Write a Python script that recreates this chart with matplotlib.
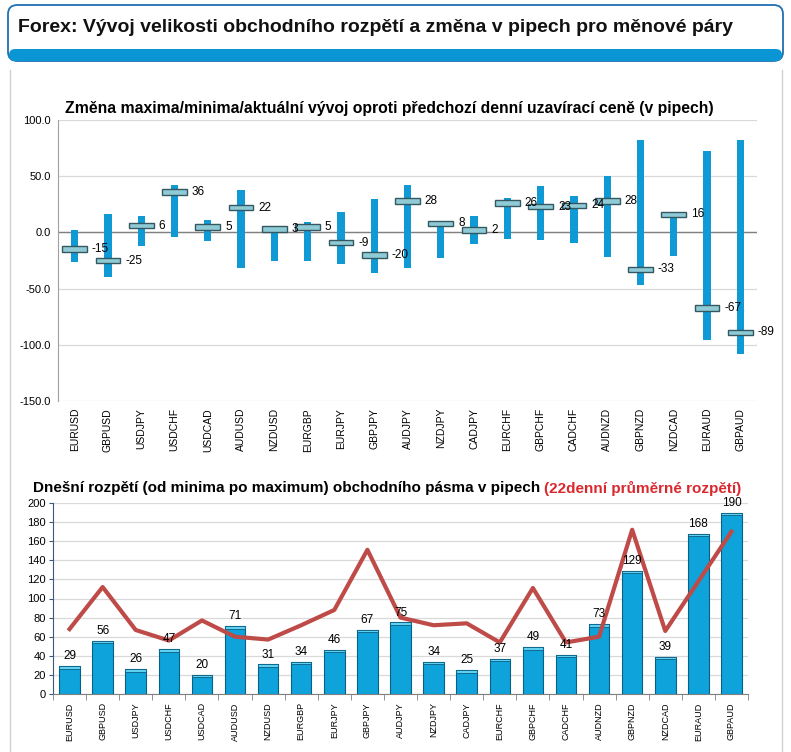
import numpy as np
import matplotlib.pyplot as plt
from matplotlib.patches import FancyBboxPatch

plt.rcParams['font.family'] = ['Liberation Sans', 'DejaVu Sans']

# Data
pairs = ['EURUSD', 'GBPUSD', 'USDJPY', 'USDCHF', 'USDCAD', 'AUDUSD', 'NZDUSD',
         'EURGBP', 'EURJPY', 'GBPJPY', 'AUDJPY', 'NZDJPY', 'CADJPY', 'EURCHF',
         'GBPCHF', 'CADCHF', 'AUDNZD', 'GBPNZD', 'NZDCAD', 'EURAUD', 'GBPAUD']
day_high = [2, 16, 15, 42, 11, 38, 4, 9, 18, 30, 42, 10, 15, 31, 41, 32, 50, 82, 18, 72, 82]
day_low = [-26, -40, -12, -4, -8, -32, -25, -25, -28, -36, -32, -23, -10, -6, -7, -9, -22, -47, -21, -96, -108]
current = [-15, -25, 6, 36, 5, 22, 3, 5, -9, -20, 28, 8, 2, 26, 23, 24, 28, -33, 16, -67, -89]
day_range = [29, 56, 26, 47, 20, 71, 31, 34, 46, 67, 75, 34, 25, 37, 49, 41, 73, 129, 39, 168, 190]
avg_range_22 = [68, 112, 67, 56, 77, 60, 57, 72, 88, 151, 80, 72, 74, 54, 111, 54, 60, 172, 66, 118, 170]

x = np.arange(len(pairs))

fig = plt.figure(figsize=(7.91, 7.52), dpi=100)
fig.patch.set_facecolor('white')

# pixel -> figure fraction helpers
W, H = 791, 752
def fx(px):
    return px / W
def fy(py):
    return 1 - py / H

# Header box
hdr = FancyBboxPatch((fx(8), fy(61)), fx(775), fy(5) - fy(61),
                     boxstyle='round,pad=0,rounding_size=0.012',
                     transform=fig.transFigure, facecolor='white',
                     edgecolor='#1f6fb2', linewidth=1.3, zorder=1)
fig.patches.append(hdr)
band = FancyBboxPatch((fx(9), fy(61)), fx(773), fy(49) - fy(61),
                      boxstyle='round,pad=0,rounding_size=0.008',
                      transform=fig.transFigure, facecolor='#0a96d4',
                      edgecolor='none', zorder=2)
fig.patches.append(band)
fig.text(fx(18), fy(27), 'Forex: Vývoj velikosti obchodního rozpětí a změna v pipech pro měnové páry',
         fontsize=14, fontweight='bold', va='center', ha='left', color='#111111')

# Panel borders
fig.lines.append(plt.Line2D([fx(10), fx(10)], [fy(70), 0], transform=fig.transFigure,
                            color='#d0d0d0', lw=1))
fig.lines.append(plt.Line2D([fx(782), fx(782)], [fy(70), 0], transform=fig.transFigure,
                            color='#d0d0d0', lw=1))

# ---- Top chart: high/low range with current value ----
ax1 = fig.add_axes([fx(58), fy(401), fx(757) - fx(58), fy(120) - fy(401)])
lows = np.array(day_low)
highs = np.array(day_high)
ax1.bar(x, highs - lows, bottom=lows, width=0.22, color='#0f9ad6', zorder=3)
cur = np.array(current)
ax1.bar(x, 5, bottom=cur - 2.5, width=0.74, color='#8fcbd6',
        edgecolor='#35575f', linewidth=1.0, zorder=4)
for xi, c in zip(x, current):
    ax1.text(xi + 0.52, c, f'{c}', fontsize=8.5, va='center', ha='left', zorder=5)

ax1.set_xlim(-0.5, len(pairs) - 0.5)
ax1.set_ylim(-150, 100)
ax1.set_yticks(np.arange(-150, 101, 50))
ax1.set_yticklabels([f'{v:.1f}' for v in np.arange(-150, 101, 50)], fontsize=8)
ax1.yaxis.grid(True, color='#d9d9d9', lw=0.9)
ax1.axhline(0, color='#808080', lw=1, zorder=2)
ax1.set_axisbelow(True)
ax1.set_xticks(x)
ax1.set_xticklabels(pairs, rotation=90, fontsize=7.5)
ax1.tick_params(axis='both', length=0, pad=5)
for s in ['top', 'right', 'bottom']:
    ax1.spines[s].set_visible(False)
ax1.spines['left'].set_color('#a0a0a0')
fig.text(fx(65), fy(108), 'Změna maxima/minima/aktuální vývoj oproti předchozí denní uzavírací ceně (v pipech)',
         fontsize=11.3, fontweight='bold', va='center', ha='left')

# ---- Bottom chart: today's range vs 22-day average ----
ax2 = fig.add_axes([fx(53), fy(694), fx(748) - fx(53), fy(503) - fy(694)])
ax2.bar(x, day_range, width=0.62, color='#0ea3da', edgecolor='#0a5f82', linewidth=0.8, zorder=3)
ax2.bar(x, 2.5, bottom=np.array(day_range) - 2.5, width=0.62, color='#5fd0f0',
        edgecolor='#0a5f82', linewidth=0.6, zorder=3)
ax2.plot(x, avg_range_22, color='#be4b48', lw=3, zorder=4)
for xi, v in zip(x, day_range):
    ax2.text(xi, v + 4, f'{v}', fontsize=8.5, ha='center', va='bottom', zorder=5, clip_on=False)

ax2.set_xlim(-0.5, len(pairs) - 0.5)
ax2.set_ylim(0, 200)
ax2.set_yticks(np.arange(0, 201, 20))
ax2.tick_params(axis='y', labelsize=8, length=3, color='#40587a', pad=2)
ax2.yaxis.grid(True, color='#d9d9d9', lw=0.9)
ax2.set_axisbelow(True)
ax2.set_xticks(x)
ax2.set_xticklabels(pairs, rotation=90, fontsize=6.5)
ax2.set_xticks(np.arange(-0.5, len(pairs), 1), minor=True)
ax2.tick_params(axis='x', which='major', length=0, pad=6)
ax2.tick_params(axis='x', which='minor', length=4, color='#808080')
for s in ['top', 'right']:
    ax2.spines[s].set_visible(False)
ax2.spines['left'].set_color('#40587a')
ax2.spines['bottom'].set_color('#808080')

t1 = fig.text(fx(33), fy(488), 'Dnešní rozpětí (od minima po maximum) obchodního pásma v pipech ',
              fontsize=11, fontweight='bold', va='center', ha='left')
fig.canvas.draw()
bb = t1.get_window_extent()
fig.text(bb.x1 / fig.dpi / 7.91, fy(488), '(22denní průměrné rozpětí)',
         fontsize=11, fontweight='bold', va='center', ha='left', color='#d9292f')

fig.savefig('out.png', dpi=100)
